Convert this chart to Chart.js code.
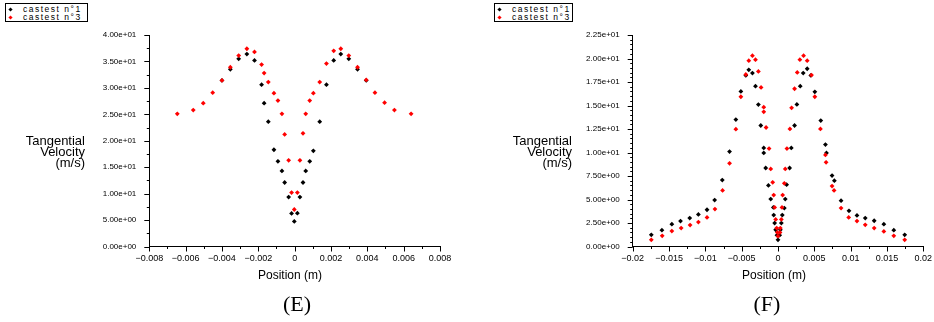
<!DOCTYPE html>
<html>
<head>
<meta charset="utf-8">
<script src="https://cdn.jsdelivr.net/npm/chart.js@4"></script>
<style>
  body { margin: 0; width: 934px; height: 322px; background: #fff; position: relative; overflow: hidden; font-family: "Liberation Sans", Arial, sans-serif; }
  .pane { position: absolute; top: 0; width: 467px; height: 322px; }
  .pane canvas { position: absolute; left: 0; top: 0; }
  .legend { position: absolute; border: 1px solid #000; background: #fff; font-size: 8.5px; letter-spacing: 1.5px; line-height: 7.5px; padding-top: 2px; box-sizing: border-box; }
  .legend .row { position: relative; height: 7.5px; padding-left: 17px; white-space: nowrap; }
  .legend .mk { position: absolute; left: 3px; top: 2px; width: 3px; height: 3px; transform: rotate(45deg); }
  .ytitle { position: absolute; text-align: right; font-size: 13px; line-height: 11px; }
  .xtitle { position: absolute; width: 120px; text-align: center; font-size: 12px; }
  .tag { position: absolute; width: 60px; text-align: center; font-family: "Liberation Serif", "DejaVu Serif", serif; font-size: 22px; }
</style>
</head>
<body>
<div class="pane" style="left:0">
  <canvas id="chartE" width="467" height="322"></canvas>
  <div class="legend" style="left:5px;top:3px;width:83px;height:19px">
    <div class="row"><span class="mk" style="background:#000"></span>castest n°1</div>
    <div class="row"><span class="mk" style="background:#f00"></span>castest n°3</div>
  </div>
  <div class="ytitle" style="right:382px;top:135px">Tangential<br>Velocity<br>(m/s)</div>
  <div class="xtitle" style="left:230px;top:268px">Position (m)</div>
  <div class="tag" style="left:267px;top:291px">(E)</div>
</div>
<div class="pane" style="left:467px">
  <canvas id="chartF" width="467" height="322"></canvas>
  <div class="legend" style="left:27px;top:3px;width:79px;height:19px">
    <div class="row"><span class="mk" style="background:#000"></span>castest n°1</div>
    <div class="row"><span class="mk" style="background:#f00"></span>castest n°3</div>
  </div>
  <div class="ytitle" style="right:362px;top:135px">Tangential<br>Velocity<br>(m/s)</div>
  <div class="xtitle" style="left:247px;top:268px">Position (m)</div>
  <div class="tag" style="left:270px;top:291px">(F)</div>
</div>
<script>
// (E) tangential velocity, positions in m, velocities in m/s
const eX1 = [-0.00400, -0.00354, -0.00308, -0.00263, -0.00221, -0.00182, -0.00168, -0.00145, -0.00114, -0.00092,
  -0.00070, -0.00055, -0.00033, -0.00017, -0.00002, 0.00015, 0.00029, 0.00046, 0.00061, 0.00083,
  0.00103, 0.00138, 0.00175, 0.00215, 0.00254, 0.00298, 0.00346, 0.00394];
const eY1 = [31.4, 33.5, 35.5, 36.4, 35.2, 30.6, 27.1, 23.6, 18.3, 16.1,
  14.3, 12.1, 9.35, 6.25, 4.74, 6.3, 9.35, 12.1, 14.3, 16.1,
  18.1, 23.6, 30.6, 35.2, 36.4, 35.5, 33.5, 31.4];
const eX3 = [-0.00646, -0.00558, -0.00503, -0.00451, -0.00400, -0.00354, -0.00308, -0.00263, -0.00221, -0.00182,
  -0.00168, -0.00145, -0.00114, -0.00092, -0.00070, -0.00055, -0.00033, -0.00017, -0.00002, 0.00015,
  0.00029, 0.00046, 0.00061, 0.00083, 0.00103, 0.00138, 0.00175, 0.00215, 0.00254, 0.00298,
  0.00346, 0.00394, 0.00442, 0.00495, 0.00549, 0.00641];
const eY3 = [25.1, 25.8, 27.1, 29.1, 31.4, 33.9, 36.1, 37.4, 36.8, 34.4,
  32.8, 31.1, 29.0, 27.6, 25.1, 21.2, 16.3, 10.2, 7.0, 10.2,
  16.3, 21.4, 25.1, 27.6, 29.0, 31.1, 34.6, 37.0, 37.4, 36.1,
  33.9, 31.5, 29.1, 27.2, 25.8, 25.1];

// (F)
const fX1 = [-0.01744, -0.01598, -0.01461, -0.01342, -0.01215, -0.01096, -0.00977, -0.00872, -0.00767, -0.00667,
  -0.00580, -0.00511, -0.00443, -0.00402, -0.00352, -0.00310, -0.00270, -0.00237, -0.00196, -0.00196,
  -0.00169, -0.00132, -0.00100, -0.00064, -0.00059, -0.00046, -0.00032, -0.00014, 0.00000, 0.00023,
  0.00032, 0.00046, 0.00059, 0.00087, 0.00100, 0.00119, 0.00160, 0.00183, 0.00228, 0.00260,
  0.00306, 0.00347, 0.00402, 0.00452, 0.00507, 0.00589, 0.00653, 0.00667, 0.00744, 0.00776,
  0.00868, 0.00977, 0.01087, 0.01201, 0.01324, 0.01457, 0.01594, 0.01744];
const fY1 = [1.24, 1.74, 2.38, 2.70, 3.02, 3.41, 3.91, 4.94, 7.07, 10.1,
  13.5, 16.5, 18.2, 18.8, 18.45, 17.06, 15.1, 12.87, 10.49, 9.95,
  8.35, 6.5, 5.05, 4.16, 3.34, 2.49, 1.78, 1.21, 0.71, 1.21,
  1.78, 2.49, 3.34, 4.09, 5.05, 6.58, 8.35, 10.49, 12.87, 15.11,
  17.06, 18.45, 18.91, 18.2, 16.46, 13.4, 10.84, 9.95, 7.54, 7.0,
  4.87, 3.80, 3.31, 3.02, 2.74, 2.38, 1.74, 1.24];
const fX3 = [-0.01744, -0.01594, -0.01461, -0.01333, -0.01210, -0.01096, -0.00977, -0.00868, -0.00763, -0.00667,
  -0.00580, -0.00511, -0.00443, -0.00402, -0.00352, -0.00310, -0.00270, -0.00233, -0.00196, -0.00196,
  -0.00164, -0.00123, -0.00100, -0.00073, -0.00059, -0.00046, -0.00032, -0.00018, -0.00009, 0.00000,
  0.00027, 0.00032, 0.00046, 0.00055, 0.00064, 0.00087, 0.00100, 0.00123, 0.00164, 0.00187,
  0.00228, 0.00265, 0.00301, 0.00352, 0.00402, 0.00461, 0.00507, 0.00584, 0.00653, 0.00662,
  0.00744, 0.00772, 0.00868, 0.00973, 0.01087, 0.01201, 0.01324, 0.01457, 0.01594, 0.01744];
const fY3 = [0.71, 1.14, 1.64, 1.96, 2.28, 2.60, 3.09, 3.98, 5.97, 8.85,
  12.48, 15.93, 18.3, 19.77, 20.3, 19.87, 18.63, 16.92, 14.82, 14.33,
  12.66, 10.42, 8.25, 6.83, 5.47, 4.16, 2.88, 1.96, 1.49, 1.10,
  1.49, 1.96, 2.88, 4.16, 5.47, 6.72, 8.25, 10.42, 12.51, 14.75,
  16.78, 18.52, 19.87, 20.3, 19.77, 18.24, 15.93, 12.51, 9.74, 8.96,
  6.43, 5.97, 4.09, 3.09, 2.70, 2.31, 1.96, 1.60, 1.14, 0.71];

// axis ranges: [min, max, major step, minor step]
const eXAxis = [-0.008, 0.008, 0.002, 0.001];
const eYAxis = [0, 40, 5, 2.5];
const fXAxis = [-0.02, 0.02, 0.005, 0.0025];
const fYAxis = [0, 22.5, 2.5, 0.5];

const zip = (xs, ys) => xs.map((x, i) => ({ x: x, y: ys[i] }));

const fmtX = v => {
    const r = Math.round(v * 1e6) / 1e6;
    return String(r).replace('-', '\u2212');
};
const fmtY = v => v.toExponential(2).replace(/e([+-])(\d)$/, 'e$10$2');

// major / minor tick marks drawn outside the plot
const tickMarks = {
    id: 'tickMarks',
    afterDraw(chart) {
        const { ctx, chartArea } = chart;
        const axes = chart.options.plugins.tickMarks;
        ctx.save();
        ctx.strokeStyle = '#000';
        ctx.lineWidth = 1;
        ctx.beginPath();
        ['x', 'y'].forEach(id => {
            const scale = chart.scales[id];
            const [min, max, major, minor] = axes[id];
            const n = Math.round((max - min) / minor);
            const every = Math.round(major / minor);
            for (let i = 0; i <= n; i++) {
                const v = min + i * minor;
                const len = i % every === 0 ? 5 : 2.5;
                const p = Math.round(scale.getPixelForValue(v)) + 0.5;
                if (id === 'x') {
                    ctx.moveTo(p, chartArea.bottom);
                    ctx.lineTo(p, chartArea.bottom + len);
                } else {
                    ctx.moveTo(chartArea.left, p);
                    ctx.lineTo(chartArea.left - len, p);
                }
            }
        });
        ctx.stroke();
        ctx.restore();
    }
};

function makeChart(id, s1, s3, xAxis, yAxis, pad, yWidth) {
    const point = color => ({
        backgroundColor: color,
        borderWidth: 0,
        pointStyle: 'rectRot',
        pointRadius: 2.4,
        pointHoverRadius: 2.4,
        showLine: false
    });
    return new Chart(document.getElementById(id), {
        type: 'scatter',
        data: {
            datasets: [
                Object.assign({ label: 'castest n°3', data: s3 }, point('#ff0000')),
                Object.assign({ label: 'castest n°1', data: s1 }, point('#000000'))
            ]
        },
        options: {
            responsive: false,
            animation: false,
            layout: { padding: pad },
            plugins: {
                legend: { display: false },
                tooltip: { enabled: false },
                tickMarks: { x: xAxis, y: yAxis }
            },
            scales: {
                x: {
                    type: 'linear',
                    min: xAxis[0], max: xAxis[1],
                    grid: { display: false, drawTicks: false },
                    border: { display: true, color: '#000', width: 1 },
                    ticks: {
                        stepSize: xAxis[2],
                        color: '#000',
                        font: { family: 'Liberation Sans', size: 9 },
                        padding: 7,
                        maxRotation: 0,
                        autoSkip: false,
                        callback: v => fmtX(v)
                    },
                    afterFit: s => { s.height = 30; s.paddingLeft = 0; s.paddingRight = 0; }
                },
                y: {
                    type: 'linear',
                    min: yAxis[0], max: yAxis[1],
                    grid: { display: false, drawTicks: false },
                    border: { display: true, color: '#000', width: 1 },
                    ticks: {
                        stepSize: yAxis[2],
                        color: '#000',
                        font: { family: 'Liberation Sans', size: 8 },
                        padding: 13,
                        autoSkip: false,
                        callback: v => fmtY(v)
                    },
                    afterFit: s => { s.width = yWidth; s.paddingTop = 0; s.paddingBottom = 0; }
                }
            }
        },
        plugins: [tickMarks]
    });
}

makeChart('chartE', zip(eX1, eY1), zip(eX3, eY3), eXAxis, eYAxis,
    { left: 0, right: 27, top: 35, bottom: 45.5 }, 149.3);
makeChart('chartF', zip(fX1, fY1), zip(fX3, fY3), fXAxis, fYAxis,
    { left: 0, right: 10.7, top: 35, bottom: 45.5 }, 165.7);
</script>
</body>
</html>
